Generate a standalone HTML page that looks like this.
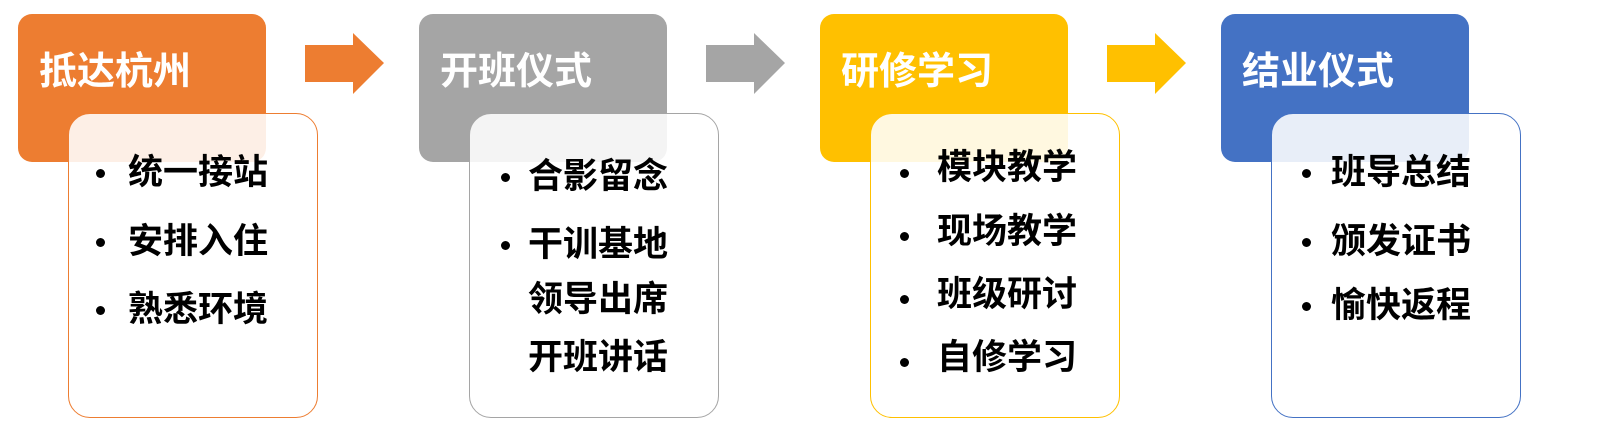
<!DOCTYPE html>
<html><head><meta charset="utf-8"><style>
*{margin:0;padding:0;box-sizing:border-box}
body{width:1600px;height:432px;background:#fff;position:relative;overflow:hidden;font-family:"Liberation Sans","Noto Sans CJK SC",sans-serif}
.h{position:absolute;top:14px;width:248px;height:148px;border-radius:14px}
.h span{position:absolute;left:21px;top:36px;color:#fff;font-size:38px;font-weight:bold;line-height:44px}
.b{position:absolute;top:113px;width:250px;height:305px;border-radius:22px;background:rgba(255,255,255,0.88);border:1.5px solid}
.t{position:absolute;font-size:35px;font-weight:bold;line-height:40px;color:#000;white-space:nowrap}
.d{position:absolute;width:9px;height:9px;border-radius:50%;background:#000}
svg{position:absolute}
</style></head><body>
<div class="h" style="left:18px;background:#ED7D31"><span>抵达杭州</span></div>
<div class="h" style="left:419px;background:#A5A5A5"><span>开班仪式</span></div>
<div class="h" style="left:820px;background:#FFC000"><span>研修学习</span></div>
<div class="h" style="left:1221px;background:#4472C4"><span>结业仪式</span></div>

<div class="b" style="left:68px;border-color:#ED7D31"></div>
<div class="b" style="left:469px;border-color:#A5A5A5"></div>
<div class="b" style="left:870px;border-color:#FFC000"></div>
<div class="b" style="left:1271px;border-color:#4472C4"></div>

<svg width="1600" height="432" style="left:0;top:0">
<polygon points="305,45 353,45 353,33 384,63 353,94 353,82 305,82" fill="#ED7D31"/>
<polygon points="706,45 754,45 754,33 785,63 754,94 754,82 706,82" fill="#A5A5A5"/>
<polygon points="1107,45 1155,45 1155,33 1186,63 1155,94 1155,82 1107,82" fill="#FFC000"/>
</svg>

<!-- orange -->
<div class="d" style="left:96px;top:169px"></div><div class="t" style="left:128px;top:153px">统一接站</div>
<div class="d" style="left:96px;top:238px"></div><div class="t" style="left:128px;top:222px">安排入住</div>
<div class="d" style="left:96px;top:306px"></div><div class="t" style="left:128px;top:290px">熟悉环境</div>
<!-- gray -->
<div class="d" style="left:501px;top:173px"></div><div class="t" style="left:528px;top:157px">合影留念</div>
<div class="d" style="left:501px;top:241px"></div><div class="t" style="left:528px;top:225px">干训基地</div>
<div class="t" style="left:528px;top:280px">领导出席</div>
<div class="t" style="left:528px;top:338px">开班讲话</div>
<!-- yellow -->
<div class="d" style="left:900px;top:169px"></div><div class="t" style="left:937px;top:148px">模块教学</div>
<div class="d" style="left:900px;top:232px"></div><div class="t" style="left:937px;top:212px">现场教学</div>
<div class="d" style="left:900px;top:295px"></div><div class="t" style="left:937px;top:275px">班级研讨</div>
<div class="d" style="left:900px;top:358px"></div><div class="t" style="left:937px;top:338px">自修学习</div>
<!-- blue -->
<div class="d" style="left:1302px;top:169px"></div><div class="t" style="left:1331px;top:153px">班导总结</div>
<div class="d" style="left:1302px;top:238px"></div><div class="t" style="left:1331px;top:222px">颁发证书</div>
<div class="d" style="left:1302px;top:302px"></div><div class="t" style="left:1331px;top:286px">愉快返程</div>
</body></html>
